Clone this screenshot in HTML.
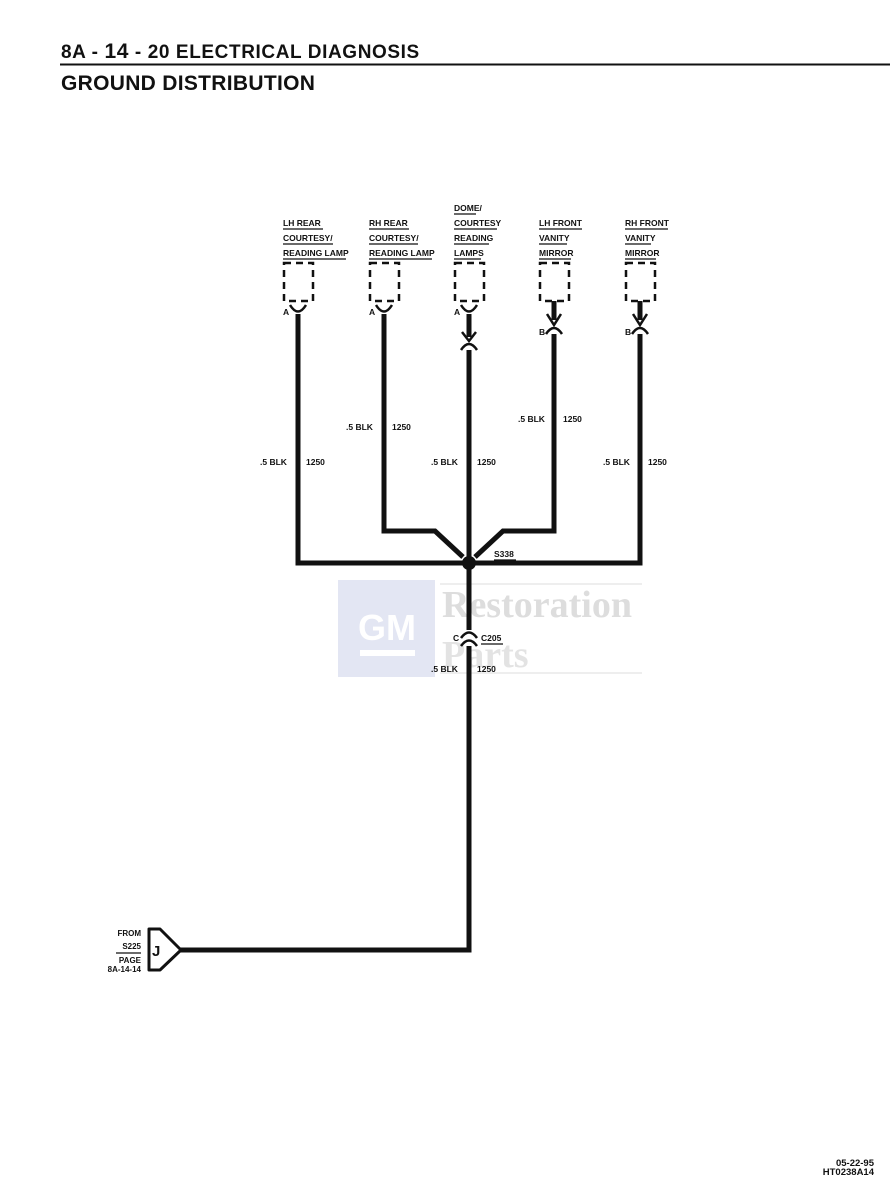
<!DOCTYPE html>
<html><head><meta charset="utf-8"><style>
html,body{margin:0;padding:0;background:#fff;}
svg{display:block;}
text{font-family:"Liberation Sans",Arial,sans-serif;font-weight:bold;fill:#111;}
</style></head><body>
<svg width="890" height="1190" viewBox="0 0 890 1190" xmlns="http://www.w3.org/2000/svg">
<rect width="890" height="1190" fill="#fff"/>
<!-- header -->
<text x="61" y="58" font-size="19" letter-spacing="0.6">8A - <tspan font-size="21">14</tspan> - 20  ELECTRICAL DIAGNOSIS</text>
<line x1="60" y1="64.5" x2="890" y2="64.5" stroke="#111" stroke-width="2"/>
<text x="61" y="90" font-size="21" letter-spacing="0.3">GROUND DISTRIBUTION</text>

<!-- watermark -->
<rect x="338" y="580" width="97" height="97" fill="#e3e6f3"/>
<text x="358" y="640" font-size="36" style="fill:#fff;font-family:'Liberation Sans Narrow','Liberation Sans',sans-serif">GM</text>
<rect x="360" y="650" width="55" height="6" fill="#fff"/>
<line x1="440" y1="584" x2="642" y2="584" stroke="#ddd" stroke-width="1"/>
<line x1="440" y1="673" x2="642" y2="673" stroke="#ddd" stroke-width="1"/>
<text x="442" y="617" font-size="38" style="fill:#ddd;font-family:'Liberation Serif',serif">Restoration</text>
<text x="442" y="667" font-size="38" style="fill:#e3e3e3;font-family:'Liberation Serif',serif">Parts</text>

<!-- component labels -->
<g font-size="8.5">
<text x="283" y="226">LH REAR</text><text x="283" y="241">COURTESY/</text><text x="283" y="256">READING LAMP</text>
<text x="369" y="226">RH REAR</text><text x="369" y="241">COURTESY/</text><text x="369" y="256">READING LAMP</text>
<text x="454" y="211">DOME/</text><text x="454" y="226">COURTESY</text><text x="454" y="241">READING</text><text x="454" y="256">LAMPS</text>
<text x="539" y="226">LH FRONT</text><text x="539" y="241">VANITY</text><text x="539" y="256">MIRROR</text>
<text x="625" y="226">RH FRONT</text><text x="625" y="241">VANITY</text><text x="625" y="256">MIRROR</text>
</g>
<g stroke="#111" stroke-width="1.3">
<line x1="283" y1="229" x2="323" y2="229"/><line x1="283" y1="244" x2="333" y2="244"/><line x1="283" y1="259" x2="346" y2="259"/>
<line x1="369" y1="229" x2="409" y2="229"/><line x1="369" y1="244" x2="418" y2="244"/><line x1="369" y1="259" x2="432" y2="259"/>
<line x1="454" y1="214" x2="476" y2="214"/><line x1="454" y1="229" x2="497" y2="229"/><line x1="454" y1="244" x2="489" y2="244"/><line x1="454" y1="259" x2="481" y2="259"/>
<line x1="539" y1="229" x2="582" y2="229"/><line x1="539" y1="244" x2="567" y2="244"/><line x1="539" y1="259" x2="571" y2="259"/>
<line x1="625" y1="229" x2="668" y2="229"/><line x1="625" y1="244" x2="651" y2="244"/><line x1="625" y1="259" x2="656" y2="259"/>
</g>
<!-- dashed boxes -->
<g fill="none" stroke="#111" stroke-width="2.5" stroke-dasharray="7,5">
<rect x="284" y="263" width="29" height="38"/>
<rect x="370" y="263" width="29" height="38"/>
<rect x="455" y="263" width="29" height="38"/>
<rect x="540" y="263" width="29" height="38"/>
<rect x="626" y="263" width="29" height="38"/>
</g>
<!-- wires -->
<g fill="none" stroke="#111" stroke-width="5" stroke-linejoin="miter">
<path d="M298 314 V563 H463"/>
<path d="M384 314 V531 H435 L463 557"/>
<path d="M469 314 V337"/>
<path d="M469 350 V630"/>
<path d="M469 646 V950 H180"/>
<path d="M554 301 V320"/>
<path d="M554 334 V531 H503 L475 557"/>
<path d="M640 301 V320"/>
<path d="M640 334 V563 H475"/>
</g>
<circle cx="469" cy="563" r="7" fill="#111"/>
<!-- connectors -->
<g fill="none" stroke="#111" stroke-width="2.5">
<path d="M290 305 Q298 318 306 305"/>
<path d="M376 305 Q384 318 392 305"/>
<path d="M461 305 Q469 318 477 305"/>
<path d="M462 332 L469 341 L476 332"/>
<path d="M461 350 Q469 338 477 350"/>
<path d="M547 314 L554 325 L561 314"/>
<path d="M546 334 Q554 322 562 334"/>
<path d="M633 314 L640 325 L647 314"/>
<path d="M632 334 Q640 322 648 334"/>
<path d="M461 638 Q469 627 477 638"/>
<path d="M461 646 Q469 635 477 646"/>
</g>
<g font-size="8.5">
<text x="283" y="315">A</text><text x="369" y="315">A</text><text x="454" y="315">A</text>
<text x="539" y="335">B</text><text x="625" y="335">B</text>
<text x="453" y="641">C</text>
<text x="481" y="641">C205</text>
<text x="494" y="557">S338</text>
<text x="260" y="465">.5 BLK</text><text x="306" y="465">1250</text>
<text x="346" y="430">.5 BLK</text><text x="392" y="430">1250</text>
<text x="431" y="465">.5 BLK</text><text x="477" y="465">1250</text>
<text x="518" y="422">.5 BLK</text><text x="563" y="422">1250</text>
<text x="603" y="465">.5 BLK</text><text x="648" y="465">1250</text>
<text x="431" y="672">.5 BLK</text><text x="477" y="672">1250</text>
</g>
<g stroke="#111" stroke-width="1.2">
<line x1="494" y1="560" x2="516" y2="560"/>
<line x1="481" y1="644" x2="503" y2="644"/>
<line x1="116" y1="953" x2="141" y2="953"/>
</g>
<!-- off-page connector -->
<path d="M149 929 H160 L181 950 L160 970 H149 Z" fill="#fff" stroke="#111" stroke-width="3" stroke-linejoin="round"/>
<text x="152" y="956" font-size="15">J</text>
<g font-size="8" text-anchor="end">
<text x="141" y="936">FROM</text>
<text x="141" y="949">S225</text>
<text x="141" y="963">PAGE</text>
<text x="141" y="972">8A-14-14</text>
</g>
<text x="874" y="1166" font-size="9.5" text-anchor="end">05-22-95</text>
<text x="874" y="1175" font-size="9.5" text-anchor="end">HT0238A14</text>
</svg>
</body></html>
